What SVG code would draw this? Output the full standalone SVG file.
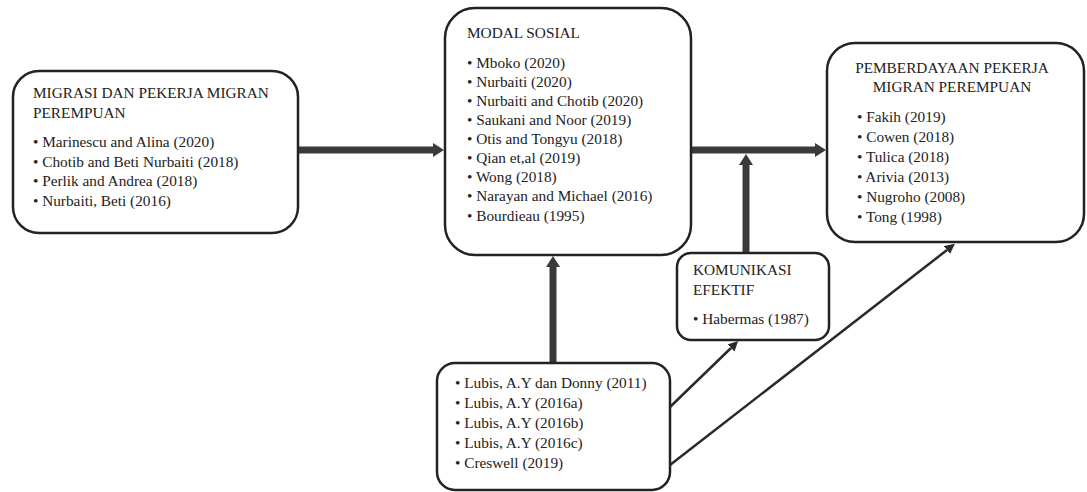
<svg xmlns="http://www.w3.org/2000/svg" width="1087" height="492" viewBox="0 0 1087 492">
<style>
.box{fill:#fff;stroke:#222;stroke-width:2.5}
text{font-family:"Liberation Serif","Times New Roman",serif;font-size:15.3px;fill:#222}
.thick{stroke:#3a3a3a;stroke-width:7;fill:none}
.thin{stroke:#2a2a2a;stroke-width:2.5;fill:none}
</style>
<defs>
<marker id="hk" markerUnits="userSpaceOnUse" markerWidth="12" markerHeight="14" refX="0" refY="7" orient="auto">
<path d="M0,0 L11,7 L0,14 Z" fill="#3a3a3a"/>
</marker>
<marker id="hn" markerUnits="userSpaceOnUse" markerWidth="10" markerHeight="10" refX="0" refY="5" orient="auto">
<path d="M0,0 L10,5 L0,10 Z" fill="#2a2a2a"/>
</marker>
</defs>
<rect width="1087" height="492" fill="#fff"/>
<g id="connectors">
<line class="thick" x1="298" y1="150" x2="433" y2="150" marker-end="url(#hk)"/>
<line class="thick" x1="691" y1="150" x2="815" y2="150" marker-end="url(#hk)"/>
<line class="thick" x1="746" y1="253" x2="746" y2="165" marker-end="url(#hk)"/>
<line class="thick" x1="553" y1="363" x2="553" y2="267" marker-end="url(#hk)"/>
<line class="thin" x1="670" y1="407" x2="731" y2="348" marker-end="url(#hn)"/>
<line class="thin" x1="670" y1="465" x2="947" y2="250" marker-end="url(#hn)"/>
</g>
<g id="migrasi">
<rect class="box" x="13" y="71" width="285" height="162" rx="26"/>
<text x="33" y="98">MIGRASI DAN PEKERJA MIGRAN</text>
<text x="33" y="118">PEREMPUAN</text>
<text x="33" y="147">• Marinescu and Alina (2020)</text>
<text x="33" y="167">• Chotib and Beti Nurbaiti (2018)</text>
<text x="33" y="186">• Perlik and Andrea (2018)</text>
<text x="33" y="206">• Nurbaiti, Beti (2016)</text>
</g>
<g id="modal">
<rect class="box" x="445" y="8" width="246" height="247" rx="30"/>
<text x="467" y="38">MODAL SOSIAL</text>
<text x="467" y="68">• Mboko (2020)</text>
<text x="467" y="87">• Nurbaiti (2020)</text>
<text x="467" y="106">• Nurbaiti and Chotib (2020)</text>
<text x="467" y="125">• Saukani and Noor (2019)</text>
<text x="467" y="144">• Otis and Tongyu  (2018)</text>
<text x="467" y="163">• Qian et,al (2019)</text>
<text x="467" y="182">• Wong (2018)</text>
<text x="467" y="201">• Narayan and Michael  (2016)</text>
<text x="467" y="221">• Bourdieau (1995)</text>
</g>
<g id="pemberdayaan">
<rect class="box" x="827" y="43" width="257" height="199" rx="28"/>
<text x="952" y="73" text-anchor="middle">PEMBERDAYAAN PEKERJA</text>
<text x="952" y="92" text-anchor="middle">MIGRAN PEREMPUAN</text>
<text x="857" y="122">• Fakih (2019)</text>
<text x="857" y="142">• Cowen (2018)</text>
<text x="857" y="162">• Tulica  (2018)</text>
<text x="857" y="182">• Arivia (2013)</text>
<text x="857" y="202">• Nugroho (2008)</text>
<text x="857" y="222">• Tong (1998)</text>
</g>
<g id="komunikasi">
<rect class="box" x="677" y="253" width="152" height="87" rx="14"/>
<text x="693" y="275">KOMUNIKASI</text>
<text x="693" y="295">EFEKTIF</text>
<text x="693" y="324">• Habermas (1987)</text>
</g>
<g id="lubis">
<rect class="box" x="437" y="363" width="233" height="127" rx="18"/>
<text x="455" y="388">• Lubis, A.Y dan Donny (2011)</text>
<text x="455" y="408">• Lubis, A.Y (2016a)</text>
<text x="455" y="428">• Lubis, A.Y (2016b)</text>
<text x="455" y="448">• Lubis, A.Y (2016c)</text>
<text x="455" y="468">• Creswell (2019)</text>
</g>
</svg>
